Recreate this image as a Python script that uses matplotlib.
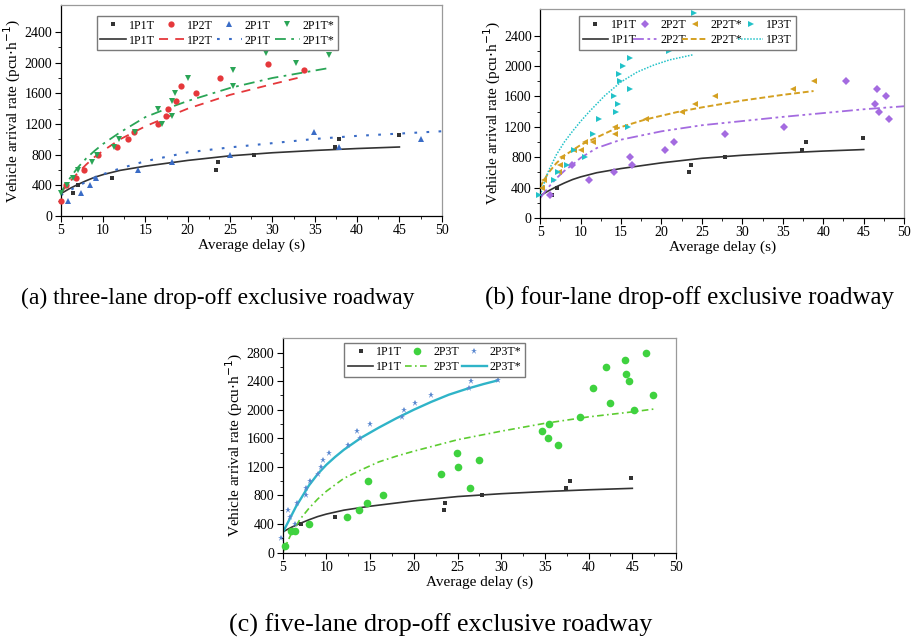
import matplotlib
matplotlib.use("Agg")
import matplotlib.pyplot as plt

plt.rcParams['font.family'] = ['Liberation Serif', 'DejaVu Serif']

# shared 1P1T data (same in all three panels)
p1p1t_x = [6.5, 7.1, 11.0, 23.4, 23.6, 27.8, 37.4, 37.9, 44.9]
p1p1t_y = [300, 400, 500, 600, 700, 800, 900, 1000, 1050]
fit_1p1t_x = [5, 6, 7, 8, 9, 10, 12, 15, 20, 25, 30, 35, 40, 45]
fit_1p1t_y = [290, 355, 410, 460, 505, 540, 595, 650, 725, 785, 825, 855, 880, 900]

# panel (a)
p1p2t_x = [5.0, 5.6, 6.85, 7.7, 9.4, 11.7, 12.95, 13.6, 16.5, 17.4, 17.7, 18.6, 19.2, 21.0, 23.8, 29.45, 33.7]
p1p2t_y = [200, 400, 500, 600, 800, 900, 1000, 1100, 1200, 1300, 1400, 1500, 1700, 1600, 1800, 1980, 1900]
p2p1t_x = [5.9, 7.4, 8.5, 9.2, 14.1, 18.1, 25.0, 34.9, 37.9, 47.6]
p2p1t_y = [200, 300, 400, 500, 600, 700, 800, 1100, 900, 1000]
p2p1ts_x = [5.0, 5.8, 6.4, 7.1, 8.7, 9.3, 11.3, 11.9, 13.8, 16.5, 17.0, 18.2, 18.2, 18.5, 20.0, 25.35, 25.35, 29.2, 32.8, 36.7]
p2p1ts_y = [300, 400, 500, 600, 700, 800, 900, 1000, 1100, 1400, 1200, 1300, 1500, 1600, 1800, 1700, 1900, 2120, 2000, 2100]

fit_1p2t_x = [5, 6, 7, 8, 9, 10, 12, 15, 18, 20, 25, 30, 33.7]
fit_1p2t_y = [300, 440, 560, 670, 770, 850, 1000, 1170, 1310, 1400, 1580, 1720, 1820]
fit_2p1t_x = [5, 6, 7, 8, 9, 10, 12, 15, 20, 25, 30, 35, 40, 45, 50]
fit_2p1t_y = [270, 330, 390, 445, 500, 545, 620, 715, 830, 895, 950, 1005, 1045, 1075, 1105]
fit_2p1ts_x = [5, 6, 7, 8, 9, 10, 12, 15, 18, 20, 25, 30, 36.7]
fit_2p1ts_y = [300, 480, 630, 750, 850, 940, 1090, 1290, 1420, 1500, 1670, 1800, 1930]

# panel (b)
p2p2t_x = [6.2, 8.9, 11.0, 14.1, 16.1, 16.3, 20.4, 21.6, 27.9, 35.1, 42.8, 46.4, 46.6, 46.9, 47.7, 48.1]
p2p2t_y = [300, 700, 500, 600, 800, 700, 900, 1000, 1100, 1200, 1800, 1500, 1700, 1400, 1600, 1300]
p2p2ts_x = [5.2, 5.5, 7.3, 7.5, 7.7, 9.2, 10.0, 10.6, 11.5, 14.2, 14.3, 18.1, 22.6, 24.2, 26.6, 36.3, 38.8]
p2p2ts_y = [400, 500, 600, 700, 800, 900, 900, 1000, 1000, 1100, 1200, 1300, 1400, 1500, 1600, 1700, 1800]
p1p3t_x = [4.9, 6.7, 7.2, 8.3, 9.2, 10.5, 11.5, 12.3, 14.1, 14.35, 14.6, 14.8, 14.9, 15.3, 16.1, 16.1, 15.9, 20.9, 24.0]
p1p3t_y = [300, 500, 600, 700, 900, 800, 1100, 1300, 1600, 1400, 1500, 1900, 1800, 2000, 2100, 1700, 1200, 2200, 2700]

fit_2p2t_x = [5, 6, 7, 8, 9, 10, 12, 15, 20, 25, 30, 35, 40, 45, 50]
fit_2p2t_y = [260, 400, 520, 620, 700, 790, 920, 1030, 1140, 1220, 1275, 1330, 1380, 1430, 1470]
fit_2p2ts_x = [5, 6, 7, 8, 10, 12, 14, 16, 18, 20, 22, 25, 30, 35, 38.8]
fit_2p2ts_y = [410, 590, 720, 820, 960, 1060, 1160, 1230, 1295, 1345, 1395, 1455, 1545, 1620, 1670]
fit_1p3t_x = [5, 6, 7, 8, 9, 10, 11, 12, 13, 15, 17, 19, 21, 24]
fit_1p3t_y = [300, 610, 830, 1000, 1140, 1270, 1390, 1500, 1610, 1790, 1920, 2010, 2080, 2150]

# panel (c)
p2p3t_x = [5.3, 5.95, 6.4, 8.05, 12.4, 13.7, 14.7, 14.8, 16.5, 23.1, 24.9, 25.1, 26.45, 27.5, 34.7, 35.4,
           35.5, 36.45, 39.05, 40.45, 42.0, 42.5, 44.2, 44.3, 44.65, 45.15, 46.6, 47.4]
p2p3t_y = [100, 300, 300, 400, 500, 600, 700, 1000, 800, 1100, 1400, 1200, 900, 1300, 1700, 1600,
           1800, 1500, 1900, 2300, 2600, 2100, 2700, 2500, 2400, 2000, 2800, 2200]
p2p3ts_x = [4.8, 5.65, 5.85, 6.35, 6.65, 7.7, 7.7, 8.1, 9.0, 9.35, 9.65, 10.3, 12.5, 13.55, 13.8, 15.0,
            18.7, 18.85, 20.1, 22.0, 26.3, 26.5, 29.6]
p2p3ts_y = [200, 600, 500, 400, 700, 800, 900, 1000, 1100, 1200, 1300, 1400, 1500, 1700, 1600, 1800,
            1900, 2000, 2100, 2200, 2300, 2400, 2420]

fit_2p3t_x = [5, 5.5, 6, 7, 8, 9, 10, 12, 14, 16, 18, 20, 25, 30, 35, 40, 45, 47.5]
fit_2p3t_y = [0, 140, 270, 470, 620, 750, 860, 1040, 1160, 1270, 1350, 1420, 1580, 1700, 1810, 1900, 1970, 2010]
fit_2p3ts_x = [5, 5.5, 6, 6.5, 7, 8, 9, 10, 11, 12, 14, 16, 18, 20, 22, 24, 26, 28, 29.6]
fit_2p3ts_y = [280, 400, 520, 640, 740, 940, 1100, 1230, 1340, 1440, 1610, 1750, 1880, 2000, 2110, 2210, 2290, 2360, 2410]

BLACK = '#333333'
TXT = 8.6


def style_axes(ax, ytop, yticks):
    ax.set_xlim(5, 50)
    ax.set_ylim(0, ytop)
    ax.set_xticks(range(5, 51, 5))
    ax.set_xticks([x + 2.5 for x in range(5, 50, 5)], minor=True)
    ax.set_yticks(yticks)
    ax.set_yticks(range(200, yticks[-1] + 1, 400), minor=True)
    ax.tick_params(which='major', direction='out', length=4, width=0.8, labelsize=10, pad=2)
    ax.tick_params(which='minor', direction='out', length=2.5, width=0.6)
    ax.spines['top'].set_color('#9a9a9a')
    ax.spines['right'].set_color('#9a9a9a')
    for s in ax.spines.values():
        s.set_linewidth(0.9)
    ax.set_xlabel('Average delay (s)', fontsize=11, labelpad=1)
    ax.set_ylabel('Vehicle arrival rate (pcu$\\cdot$h$^{-1}$)', fontsize=11, labelpad=1)


def pts(ax, x, y, marker, color, ms, label):
    return ax.plot(x, y, linestyle='none', marker=marker, color=color, markersize=ms,
                   markeredgewidth=0, clip_on=False, label=label, zorder=3)[0]


def fit(ax, x, y, color, dashes, lw, label):
    ln, = ax.plot(x, y, color=color, lw=lw, label=label, zorder=2)
    if dashes:
        ln.set_dashes(dashes)
    return ln


def legend(ax, handles, bbox):
    leg = ax.legend(handles=handles, labels=[h.get_label() for h in handles], ncol=len(handles) // 2,
                    loc='upper left', bbox_to_anchor=bbox, mode='expand', fontsize=TXT,
                    handlelength=2.1, handletextpad=0.25, columnspacing=0.2, labelspacing=0.25,
                    borderpad=0.3, borderaxespad=0, fancybox=False, framealpha=1,
                    edgecolor='#7a7a7a')
    leg.get_frame().set_linewidth(1.0)


fig = plt.figure(figsize=(9.17, 6.41), dpi=100)

# (a)
ax = fig.add_axes([0.0662, 0.663, 0.4155, 0.329])
style_axes(ax, 2750, list(range(0, 2401, 400)))
m1 = pts(ax, p1p1t_x, p1p1t_y, 's', BLACK, 3.5, '1P1T')
m2 = pts(ax, p1p2t_x, p1p2t_y, 'o', '#e5383b', 4.5, '1P2T')
m3 = pts(ax, p2p1t_x, p2p1t_y, '^', '#3a6cc6', 5, '2P1T')
m4 = pts(ax, p2p1ts_x, p2p1ts_y, 'v', '#2aa556', 5, '2P1T*')
l1 = fit(ax, fit_1p1t_x, fit_1p1t_y, BLACK, None, 1.2, '1P1T')
l2 = fit(ax, fit_1p2t_x, fit_1p2t_y, '#e5383b', (5, 4), 1.3, '1P2T')
l3 = fit(ax, fit_2p1t_x, fit_2p1t_y, '#3a6cc6', (1.3, 4.5), 1.5, '2P1T')
l4 = fit(ax, fit_2p1ts_x, fit_2p1ts_y, '#2aa556', (6, 3, 1.5, 3), 1.3, '2P1T*')
legend(ax, [m1, l1, m2, l2, m3, l3, m4, l4], (0.095, 0.806, 0.633, 0.142))

# (b)
ax = fig.add_axes([0.589, 0.660, 0.397, 0.326])
style_axes(ax, 2750, list(range(0, 2401, 400)))
m1 = pts(ax, p1p1t_x, p1p1t_y, 's', BLACK, 3.5, '1P1T')
m2 = pts(ax, p2p2t_x, p2p2t_y, 'D', '#a46be0', 4, '2P2T')
m3 = pts(ax, p2p2ts_x, p2p2ts_y, '<', '#d4a021', 5, '2P2T*')
m4 = pts(ax, p1p3t_x, p1p3t_y, '>', '#22c2c8', 5, '1P3T')
l1 = fit(ax, fit_1p1t_x, fit_1p1t_y, BLACK, None, 1.2, '1P1T')
l2 = fit(ax, fit_2p2t_x, fit_2p2t_y, '#a46be0', (6, 2, 1.5, 2, 1.5, 2), 1.3, '2P2T')
l3 = fit(ax, fit_2p2ts_x, fit_2p2ts_y, '#d4a021', (3, 1.5), 1.4, '2P2T*')
l4 = fit(ax, fit_1p3t_x, fit_1p3t_y, '#22c2c8', (1, 1), 1.1, '1P3T')
legend(ax, [m1, l1, m2, l2, m3, l3, m4, l4], (0.107, 0.828, 0.595, 0.139))

# (c)
ax = fig.add_axes([0.3083, 0.1378, 0.4289, 0.3345])
style_axes(ax, 3000, list(range(0, 2801, 400)))
m1 = pts(ax, p1p1t_x, p1p1t_y, 's', BLACK, 3.5, '1P1T')
m2 = pts(ax, p2p3t_x, p2p3t_y, 'o', '#3fd23f', 5.5, '2P3T')
m3 = pts(ax, p2p3ts_x, p2p3ts_y, '*', '#5a88d0', 5, '2P3T*')
l1 = fit(ax, fit_1p1t_x, fit_1p1t_y, BLACK, None, 1.2, '1P1T')
l2 = fit(ax, fit_2p3t_x, fit_2p3t_y, '#5ccc30', (4, 2, 1, 2), 1.2, '2P3T')
l3 = fit(ax, fit_2p3ts_x, fit_2p3ts_y, '#2fb4c8', None, 1.7, '2P3T*')
legend(ax, [m1, l1, m2, l2, m3, l3], (0.157, 0.837, 0.459, 0.142))

# captions
fig.text(0.238, 0.535, '(a) three-lane drop-off exclusive roadway', fontsize=17, ha='center', va='center')
fig.text(0.752, 0.535, '(b) four-lane drop-off exclusive roadway', fontsize=18, ha='center', va='center')
fig.text(0.481, 0.025, '(c) five-lane drop-off exclusive roadway', fontsize=18.8, ha='center', va='center')

fig.savefig('out.png', dpi=100)
